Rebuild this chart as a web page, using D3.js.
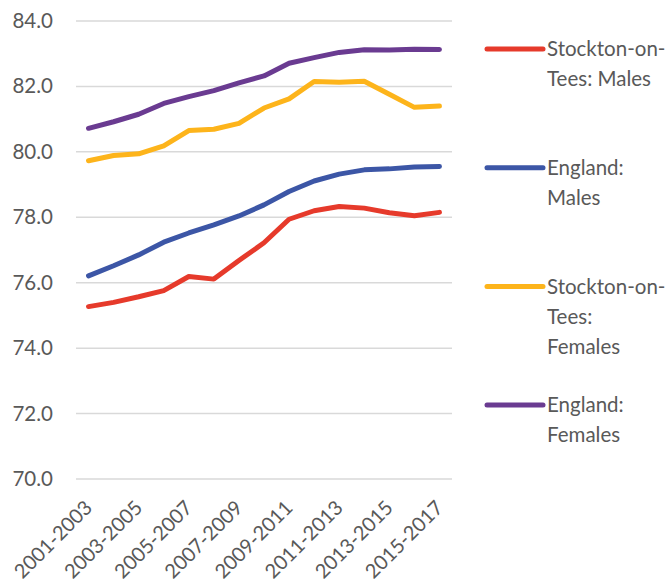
<!DOCTYPE html>
<html>
<head>
<meta charset="utf-8">
<script src="https://cdn.jsdelivr.net/npm/d3@7"></script>
<style>
  html, body { margin: 0; padding: 0; background: #fff; }
  svg { display: block; }
  text { font-family: Lato, "Open Sans", sans-serif; fill: #595959; }
</style>
</head>
<body>
<svg id="chart" width="672" height="584"></svg>
<script>
// Three-year periods
const periods = [
  "2001-2003", "2002-2004", "2003-2005", "2004-2006", "2005-2007",
  "2006-2008", "2007-2009", "2008-2010", "2009-2011", "2010-2012",
  "2011-2013", "2012-2014", "2013-2015", "2014-2016", "2015-2017"
];

// Life expectancy at birth (years)
const stocktonMales   = [75.27, 75.40, 75.57, 75.76, 76.19, 76.11, 76.68, 77.22, 77.94, 78.20, 78.33, 78.28, 78.14, 78.05, 78.15];
const englandMales    = [76.21, 76.52, 76.85, 77.24, 77.52, 77.77, 78.04, 78.38, 78.79, 79.11, 79.32, 79.45, 79.48, 79.54, 79.55];
const stocktonFemales = [79.73, 79.89, 79.94, 80.18, 80.65, 80.69, 80.87, 81.34, 81.62, 82.15, 82.13, 82.16, 81.76, 81.36, 81.40];
const englandFemales  = [80.72, 80.92, 81.15, 81.48, 81.69, 81.87, 82.11, 82.32, 82.71, 82.88, 83.04, 83.12, 83.11, 83.14, 83.13];

const seriesNames = [
  ["Stockton-on-", "Tees: Males"],
  ["England:", "Males"],
  ["Stockton-on-", "Tees:", "Females"],
  ["England:", "Females"]
];
const seriesColors = ["#E63A2B", "#3C56A6", "#FDB41B", "#6A3B91"];
const yTicks = [70, 72, 74, 76, 78, 80, 82, 84];

const series = [stocktonMales, englandMales, stocktonFemales, englandFemales];

const svg = d3.select("#chart");
const plot = { left: 76, right: 452, top: 21, bottom: 479 };

const x = d3.scaleBand().domain(periods).range([plot.left, plot.right]).padding(0);
const xc = d => x(d) + x.bandwidth() / 2;
const y = d3.scaleLinear().domain([70, 84]).range([plot.bottom, plot.top]);

// Horizontal gridlines
svg.append("g")
  .selectAll("line")
  .data(yTicks)
  .join("line")
  .attr("x1", plot.left).attr("x2", plot.right)
  .attr("y1", d => y(d)).attr("y2", d => y(d))
  .attr("stroke", "#D9D9D9").attr("stroke-width", 1.5);

// Y axis labels
const yAxis = svg.append("g")
  .attr("transform", `translate(${plot.left},0)`)
  .call(d3.axisLeft(y).tickValues(yTicks).tickFormat(d3.format(".1f")).tickSize(0).tickPadding(23));
yAxis.select(".domain").remove();
yAxis.selectAll("text")
  .style("font-size", "20.5px").style("fill", "#595959")
  .style("font-family", "Lato, 'Open Sans', sans-serif");

// X axis labels, every second period, rotated
const xAxis = svg.append("g")
  .attr("transform", `translate(0,${plot.bottom})`)
  .call(d3.axisBottom(x).tickValues(periods.filter((d, i) => i % 2 === 0)).tickSize(0));
xAxis.select(".domain").remove();
xAxis.selectAll("text")
  .style("font-size", "20px").style("fill", "#595959")
  .style("font-family", "Lato, 'Open Sans', sans-serif")
  .attr("text-anchor", "end")
  .attr("dy", "0.35em")
  .attr("transform", "translate(0,25) rotate(-45)")
  .attr("y", 0).attr("x", 0);

// Series lines
const line = d3.line()
  .x((d, i) => xc(periods[i]))
  .y(d => y(d));

svg.append("g")
  .selectAll("path")
  .data(series)
  .join("path")
  .attr("d", d => line(d))
  .attr("fill", "none")
  .attr("stroke", (d, i) => seriesColors[i])
  .attr("stroke-width", 5)
  .attr("stroke-linejoin", "round")
  .attr("stroke-linecap", "round");

// Legend
const legend = svg.append("g");
const entry = legend.selectAll("g")
  .data(seriesNames)
  .join("g")
  .attr("transform", (d, i) => `translate(487,${49 + i * 118.7})`);
entry.append("line")
  .attr("x1", 0).attr("x2", 56)
  .attr("y1", 0).attr("y2", 0)
  .attr("stroke", (d, i) => seriesColors[i])
  .attr("stroke-width", 5)
  .attr("stroke-linecap", "round");
entry.append("text")
  .attr("x", 60)
  .style("font-size", "20.5px")
  .selectAll("tspan")
  .data(d => d)
  .join("tspan")
  .attr("x", 60)
  .attr("y", (d, i) => i * 30)
  .attr("dy", "0.35em")
  .text(d => d);
</script>
</body>
</html>
